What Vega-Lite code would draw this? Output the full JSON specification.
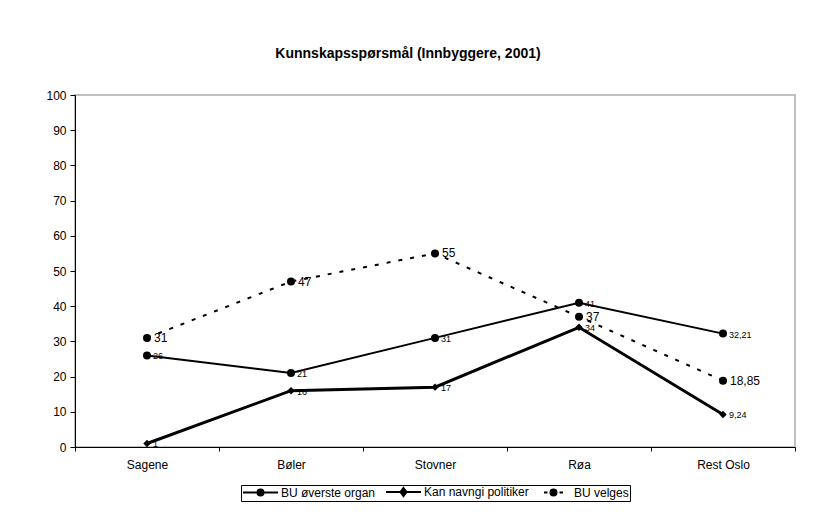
{
  "$schema": "https://vega.github.io/schema/vega-lite/v6.json",
  "width": 720,
  "height": 352,
  "autosize": {"type": "none"},
  "padding": {"left": 75, "top": 95, "right": 21, "bottom": 69},
  "background": "white",
  "title": {
    "text": "Kunnskapsspørsmål (Innbyggere, 2001)",
    "font": "Liberation Sans",
    "fontSize": 14,
    "fontWeight": "bold",
    "color": "black",
    "anchor": "middle",
    "dx": -27,
    "offset": 28
  },
  "config": {
    "locale": {"number": {"decimal": ",", "thousands": " ", "grouping": [3], "currency": ["", " kr"]}},
    "font": "Liberation Sans",
    "view": {"stroke": "#c0c0c0", "strokeWidth": 2},
    "axis": {
      "domainColor": "black",
      "domainWidth": 1,
      "tickColor": "black",
      "labelColor": "black",
      "labelFont": "Liberation Sans",
      "labelFontSize": 12,
      "grid": false,
      "title": null
    },
    "legend": {
      "labelFont": "Liberation Sans",
      "labelFontSize": 12,
      "labelColor": "black",
      "strokeColor": "black",
      "padding": 1,
      "layout": {"bottom": {"anchor": "middle"}}
    }
  },
  "data": {
    "values": [
      {"district": "Sagene", "series": "BU øverste organ", "value": 26},
      {"district": "Bøler", "series": "BU øverste organ", "value": 21},
      {"district": "Stovner", "series": "BU øverste organ", "value": 31},
      {"district": "Røa", "series": "BU øverste organ", "value": 41},
      {"district": "Rest Oslo", "series": "BU øverste organ", "value": 32.21},
      {"district": "Sagene", "series": "Kan navngi politiker", "value": 1},
      {"district": "Bøler", "series": "Kan navngi politiker", "value": 16},
      {"district": "Stovner", "series": "Kan navngi politiker", "value": 17},
      {"district": "Røa", "series": "Kan navngi politiker", "value": 34},
      {"district": "Rest Oslo", "series": "Kan navngi politiker", "value": 9.24},
      {"district": "Sagene", "series": "BU velges", "value": 31},
      {"district": "Bøler", "series": "BU velges", "value": 47},
      {"district": "Stovner", "series": "BU velges", "value": 55},
      {"district": "Røa", "series": "BU velges", "value": 37},
      {"district": "Rest Oslo", "series": "BU velges", "value": 18.85}
    ]
  },
  "encoding": {
    "x": {
      "field": "district",
      "type": "nominal",
      "sort": ["Sagene", "Bøler", "Stovner", "Røa", "Rest Oslo"],
      "scale": {"type": "band", "paddingInner": 0, "paddingOuter": 0},
      "axis": {"labelAngle": 0, "tickBand": "extent", "tickSize": 4, "labelPadding": 8, "domainColor": "black"}
    },
    "y": {
      "field": "value",
      "type": "quantitative",
      "scale": {"domain": [0, 100], "nice": false},
      "axis": {"values": [0, 10, 20, 30, 40, 50, 60, 70, 80, 90, 100], "tickSize": 5, "labelPadding": 4}
    }
  },
  "layer": [
    {
      "transform": [{"filter": "datum.series === 'BU øverste organ'"}],
      "mark": {"type": "line", "color": "black", "strokeWidth": 2},
      "encoding": {}
    },
    {
      "transform": [{"filter": "datum.series === 'Kan navngi politiker'"}],
      "mark": {"type": "line", "color": "black", "strokeWidth": 3},
      "encoding": {}
    },
    {
      "transform": [{"filter": "datum.series === 'BU velges'"}],
      "mark": {"type": "line", "color": "black", "strokeWidth": 2, "strokeDash": [4, 8]},
      "encoding": {}
    },
    {
      "transform": [{"filter": "datum.series !== 'Kan navngi politiker'"}],
      "mark": {"type": "point", "filled": true, "color": "black", "opacity": 1, "size": 64, "shape": "circle"}
    },
    {
      "transform": [{"filter": "datum.series === 'Kan navngi politiker'"}],
      "mark": {"type": "point", "filled": true, "color": "black", "opacity": 1, "size": 55, "shape": "diamond"}
    },
    {
      "mark": {"type": "point", "fill": "black", "stroke": "black", "strokeWidth": 2, "opacity": 0, "size": 100},
      "encoding": {
        "shape": {
          "field": "series",
          "type": "nominal",
          "scale": {
            "domain": ["BU øverste organ", "Kan navngi politiker", "BU velges"],
            "range": [
              "M-1,0H6M3.1,0A0.6,0.6 0 1,1 1.9,0A0.6,0.6 0 1,1 3.1,0Z",
              "M-1,0H6M2.5,-0.8L3.1,0L2.5,0.8L1.9,0Z",
              "M0.6,0H1.3M3.7,0H4.4M3.1,0A0.6,0.6 0 1,1 1.9,0A0.6,0.6 0 1,1 3.1,0Z"
            ]
          },
          "legend": {
            "title": null,
            "orient": "bottom",
            "direction": "horizontal",
            "offset": 15,
            "symbolOpacity": 1,
            "symbolSize": 100,
            "symbolStrokeWidth": 2,
            "labelOffset": 27,
            "columnPadding": 6
          }
        }
      }
    },
    {
      "transform": [{"filter": "datum.series !== 'BU velges'"}],
      "mark": {"type": "text", "align": "left", "baseline": "middle", "dx": 6, "dy": 1, "fontSize": 9, "color": "black", "font": "Liberation Sans"},
      "encoding": {"text": {"field": "value", "type": "quantitative", "format": ".2~f"}}
    },
    {
      "transform": [{"filter": "datum.series === 'BU velges'"}],
      "mark": {"type": "text", "align": "left", "baseline": "middle", "dx": 7, "fontSize": 12, "color": "black", "font": "Liberation Sans"},
      "encoding": {"text": {"field": "value", "type": "quantitative", "format": ".2~f"}}
    }
  ]
}
